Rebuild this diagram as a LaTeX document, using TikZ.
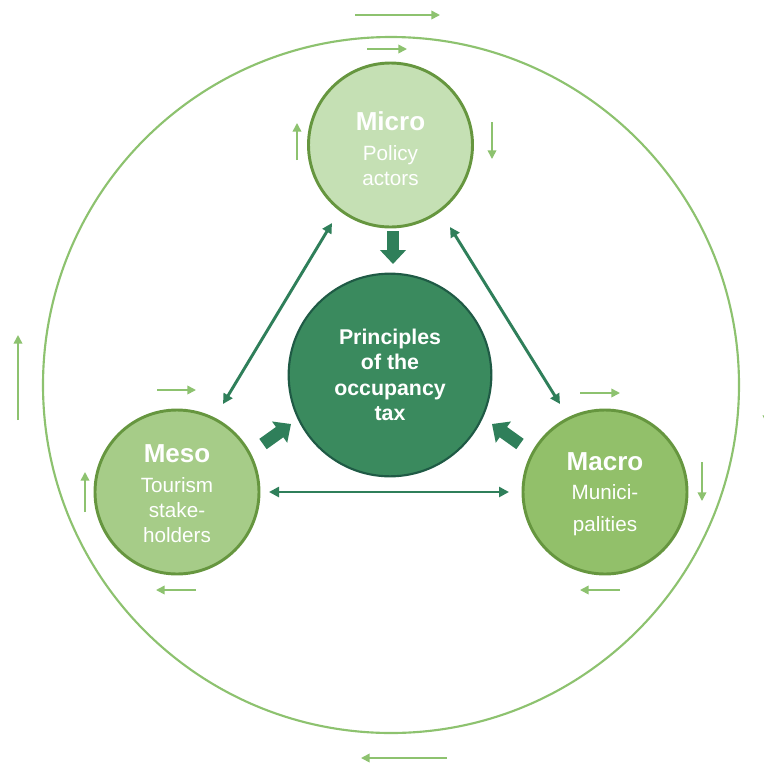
\documentclass[tikz,border=0pt]{standalone}
\usepackage{fontspec}
\setmainfont{Liberation Sans}
\usetikzlibrary{arrows.meta}
\definecolor{ringgreen}{HTML}{8DC26F}
\definecolor{microfill}{HTML}{C5E0B4}
\definecolor{mesofill}{HTML}{A6CC88}
\definecolor{macrofill}{HTML}{92C06A}
\definecolor{levelborder}{HTML}{66963F}
\definecolor{corefill}{HTML}{3A8A5E}
\definecolor{coreborder}{HTML}{1F5A45}
\definecolor{linkgreen}{HTML}{2F7F5A}
\tikzset{
  level/.style={circle, draw=levelborder, line width=2.2pt, minimum size=123pt,
    inner sep=0pt, align=center, text=white,
    font=\fontsize{15.5}{19}\selectfont},
  core/.style={circle, draw=coreborder, fill=corefill, line width=1.6pt,
    minimum size=152pt, inner sep=0pt, align=center, text=white,
    font=\fontsize{16}{19}\selectfont\bfseries},
  flow/.style={draw=ringgreen, line width=1.2pt,
    -{Triangle[length=6.5pt,width=6.5pt]}},
  link/.style={draw=linkgreen, line width=2.2pt,
    {Triangle[length=7.5pt,width=7.5pt]}-{Triangle[length=7.5pt,width=7.5pt]}},
  push/.style={draw=linkgreen, line width=9.5pt,
    -{Triangle[length=10.5pt,width=19pt]}},
}
\newcommand{\lvlhead}[1]{{\fontsize{19.5}{19.5}\selectfont\bfseries #1}\\[3pt]}
\begin{document}
\begin{tikzpicture}[x=0.75pt,y=-0.75pt]
\useasboundingbox (0,0) rectangle (764,765);
\clip (0,0) rectangle (764,765);

% outer cycle
\draw[ringgreen, line width=1.6pt] (391,385) circle (348);

% the three levels and the core
\node[level, fill=microfill] (micro) at (390.5,145) {};
\node[level, fill=mesofill] (meso) at (177,492) {};
\node[level, fill=macrofill] (macro) at (605,492) {};
\node[core] (core) at (390,375) {Principles\\of the\\occupancy\\tax};

% level captions
\node[level, draw=none, fill=none] (microtext) at (390.5,149) {\lvlhead{Micro}Policy\\actors};
\node[level, draw=none, fill=none] (mesotext) at (177,494) {\lvlhead{Meso}Tourism\\stake-\\holders};
\node[level, draw=none, fill=none] (macrotext) at (605,494) {\lvlhead{Macro}Munici-\\[5pt]palities};

% mutual links between the levels
\coordinate (l1a) at (332,223); \coordinate (l1b) at (223,404);
\coordinate (l2a) at (450,227); \coordinate (l2b) at (560,404);
\coordinate (l3a) at (269,492); \coordinate (l3b) at (509,492);
\draw[link] (l1a) -- (l1b);
\draw[link] (l2a) -- (l2b);
\draw[link] (l3a) -- (l3b);

% contributions towards the core
\coordinate (pm1) at (393,231); \coordinate (pc1) at (393,264);
\coordinate (pm2) at (263,444); \coordinate (pc2) at (291,424);
\coordinate (pm3) at (520,444); \coordinate (pc3) at (492,424);
\draw[push] (pm1) -- (pc1);
\draw[push] (pm2) -- (pc2);
\draw[push] (pm3) -- (pc3);

% small flow arrows around the levels
\coordinate (f1a) at (355,15);  \coordinate (f1b) at (440,15);
\coordinate (f2a) at (367,49);  \coordinate (f2b) at (407,49);
\coordinate (f3a) at (492,122); \coordinate (f3b) at (492,159);
\coordinate (f4a) at (297,160); \coordinate (f4b) at (297,123);
\coordinate (f5a) at (18,420);  \coordinate (f5b) at (18,335);
\coordinate (f6a) at (157,390); \coordinate (f6b) at (196,390);
\coordinate (f7a) at (85,512);  \coordinate (f7b) at (85,472);
\coordinate (f8a) at (196,590); \coordinate (f8b) at (156,590);
\coordinate (f9a) at (580,393); \coordinate (f9b) at (620,393);
\coordinate (f10a) at (702,462); \coordinate (f10b) at (702,501);
\coordinate (f11a) at (620,590); \coordinate (f11b) at (580,590);
\coordinate (f12a) at (447,758); \coordinate (f12b) at (361,758);
\coordinate (f13a) at (767,340); \coordinate (f13b) at (767,424);
\foreach \i in {1,...,13} \draw[flow] (f\i a) -- (f\i b);
\end{tikzpicture}
\end{document}
